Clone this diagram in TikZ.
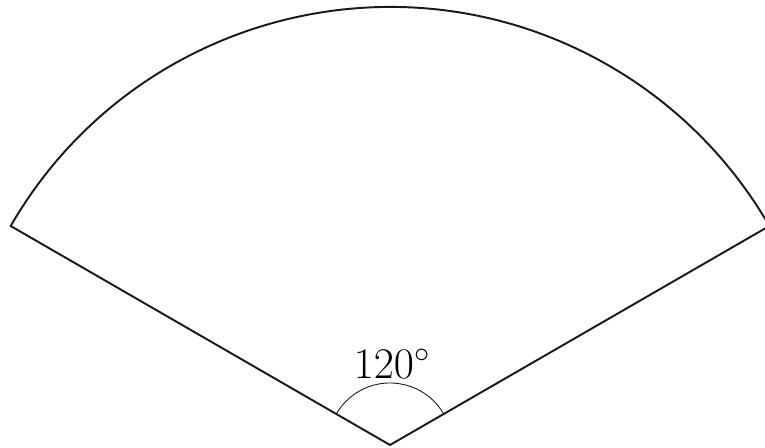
\documentclass[tikz,border=0pt]{standalone}
\usepackage{amsmath,amssymb}
\usetikzlibrary{positioning,calc}

\begin{document}
\begin{tikzpicture}[
  edge/.style={line width=1.1pt, color=black!90},
  anglemark/.style={line width=0.5pt, color=black!90},
  anglelabel/.style={font=\fontsize{23}{26}\selectfont, inner sep=0pt},
]
  \useasboundingbox (0,0) rectangle (15.3,8.96);

  % apex and rim ends
  \coordinate (apex) at (7.8,0.06);
  \coordinate (rimleft) at ($(apex)+(150:8.76)$);
  \coordinate (rimright) at ($(apex)+(30:8.76)$);

  % sector
  \draw[edge, line join=miter] (rimright) -- (apex) -- (rimleft)
    arc[start angle=150, end angle=30, radius=8.76];

  % angle mark
  \draw[anglemark] ($(apex)+(30:1.24)$) arc[start angle=30, end angle=150, radius=1.24];
  \node[anglelabel] (angle) at ($(apex)+(0.04,1.62)$) {$120^\circ$};
\end{tikzpicture}
\end{document}
